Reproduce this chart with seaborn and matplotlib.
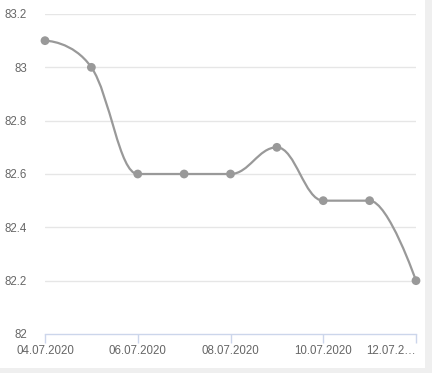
import numpy as np
import pandas as pd
import matplotlib
matplotlib.use("Agg")
import matplotlib.pyplot as plt
from matplotlib.path import Path
from matplotlib.patches import PathPatch, Rectangle
import seaborn as sns

dates = ['04.07.2020', '05.07.2020', '06.07.2020', '07.07.2020', '08.07.2020',
         '09.07.2020', '10.07.2020', '11.07.2020', '12.07.2020']
values = [83.1, 83.0, 82.6, 82.6, 82.6, 82.7, 82.5, 82.5, 82.2]
tick_labels = ['04.07.2020', '06.07.2020', '08.07.2020', '10.07.2020', '12.07.2…']
y_ticks = [82, 82.2, 82.4, 82.6, 82.8, 83, 83.2]

df = pd.DataFrame({'date': dates, 'value': values})
df['x'] = np.arange(len(df))

sns.set_style('white')
plt.rcParams['font.family'] = ['Liberation Sans', 'DejaVu Sans']

line_color = '#999999'
text_color = '#666666'


def spline_path(xs, ys, smoothing=1.5):
    # bezier spline through the points (same rule as a Highcharts spline)
    n = len(xs)
    left = [(xs[0], ys[0])] * n
    right = [(xs[0], ys[0])] * n
    denom = smoothing + 1
    for i in range(n):
        px, py = xs[i], ys[i]
        if i == 0 or i == n - 1:
            left[i] = (px, py)
            right[i] = (px, py)
            continue
        lx, ly = xs[i - 1], ys[i - 1]
        nx, ny = xs[i + 1], ys[i + 1]
        lcx = (smoothing * px + lx) / denom
        lcy = (smoothing * py + ly) / denom
        rcx = (smoothing * px + nx) / denom
        rcy = (smoothing * py + ny) / denom
        if rcx != lcx:
            corr = (rcy - lcy) * (rcx - px) / (rcx - lcx) + py - rcy
            lcy += corr
            rcy += corr
        if lcy > ly and lcy > py:
            lcy = max(ly, py)
            rcy = 2 * py - lcy
        elif lcy < ly and lcy < py:
            lcy = min(ly, py)
            rcy = 2 * py - lcy
        if rcy > ny and rcy > py:
            rcy = max(ny, py)
            lcy = 2 * py - rcy
        elif rcy < ny and rcy < py:
            rcy = min(ny, py)
            lcy = 2 * py - rcy
        left[i] = (lcx, lcy)
        right[i] = (rcx, rcy)
    verts = [(xs[0], ys[0])]
    codes = [Path.MOVETO]
    for i in range(1, n):
        verts += [right[i - 1], left[i], (xs[i], ys[i])]
        codes += [Path.CURVE4] * 3
    return Path(verts, codes)


fig = plt.figure(figsize=(4.32, 3.73), dpi=100)
fig.patches.append(Rectangle((425 / 432, 0), 7 / 432, 1, transform=fig.transFigure,
                             facecolor='#efefef', edgecolor='none', zorder=0))
fig.patches.append(Rectangle((0, 0), 1, 5 / 373, transform=fig.transFigure,
                             facecolor='#efefef', edgecolor='none', zorder=0))
ax = fig.add_axes([45 / 432, 1 - 334 / 373, 371 / 432, 320 / 373])
ax.set_facecolor('none')

path = spline_path(df['x'].tolist(), df['value'].tolist())
ax.add_patch(PathPatch(path, facecolor='none', edgecolor=line_color, lw=1.6, zorder=3))
sns.scatterplot(data=df, x='x', y='value', ax=ax, color=line_color, s=40,
                edgecolor='none', zorder=4, clip_on=False)

ax.set_xlim(0, len(df) - 1)
ax.set_ylim(82, 83.2)
ax.set_yticks(y_ticks)
ax.set_yticklabels([f'{v:g}' for v in y_ticks])
ax.set_xticks(df['x'][::2])
ax.set_xticklabels(tick_labels)
ax.get_xticklabels()[-1].set_horizontalalignment('right')

for v in y_ticks[1:]:
    ax.axhline(v, color='#e6e6e6', lw=1, zorder=1)

for side in ['top', 'right', 'left']:
    ax.spines[side].set_visible(False)
ax.spines['bottom'].set_color('#ccd6eb')
ax.spines['bottom'].set_linewidth(1)

ax.tick_params(axis='y', left=False, length=0, pad=13, labelsize=8.3,
               labelcolor=text_color)
ax.tick_params(axis='x', bottom=True, direction='out', length=6.5, width=1,
               color='#ccd6eb', pad=1.5, labelsize=8.3, labelcolor=text_color)
ax.set_xlabel('')
ax.set_ylabel('')

fig.savefig('out.png', dpi=100)
